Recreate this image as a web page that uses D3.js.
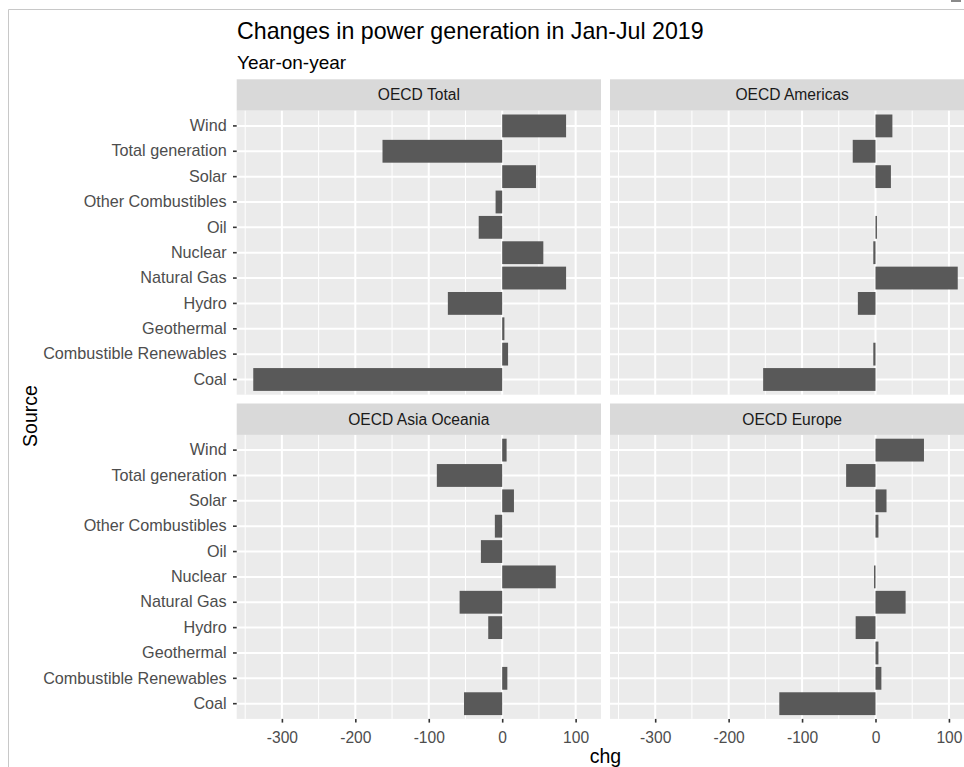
<!DOCTYPE html>
<html><head><meta charset="utf-8">
<script src="https://cdn.jsdelivr.net/npm/d3@7"></script>
<style>body{margin:0;background:#fff;} svg{display:block;font-family:"Liberation Sans",Arial,sans-serif;}</style>
</head><body><svg id="c" width="964" height="767"></svg>
<script>
// ---- data ----
const categories = ["Coal","Combustible Renewables","Geothermal","Hydro","Natural Gas","Nuclear","Oil","Other Combustibles","Solar","Total generation","Wind"];
const regions = ["OECD Total","OECD Americas","OECD Asia Oceania","OECD Europe"];
const totalValues    = [-339, 8, 3, -74, 87, 56, -32, -9, 46, -163, 87];
const americasValues = [-153, -3, 0, -24, 112, -3, 2, 0, 21, -31, 23];
const asiaValues     = [-52, 7, 0, -19, -58, 73, -29, -10, 16, -89, 6];
const europeValues   = [-131, 8, 4, -27, 41, -2, 0, 4, 15, -40, 66];
const xTicks = [-300, -200, -100, 0, 100];
const xMinorTicks = [-350, -250, -150, -50, 50];
const titleText = "Changes in power generation in Jan-Jul 2019";
const subtitleText = "Year-on-year";
const xTitle = "chg", yTitle = "Source";

const seriesByRegion = [totalValues, americasValues, asiaValues, europeValues];

// ---- layout ----
const svg = d3.select("#c");
const colX = [236.7, 610];
const panelW = 364.3;
const stripTop = [79.3, 403.5];
const stripH = 31.4;
const panelH = 284.0;

// frame lines
svg.append("line").attr("x1",8.5).attr("x2",8.5).attr("y1",9.5).attr("y2",767).attr("stroke","#c8c8c8");
svg.append("line").attr("x1",8.5).attr("x2",964).attr("y1",9.5).attr("y2",9.5).attr("stroke","#c8c8c8");
svg.append("rect").attr("x",951).attr("y",0).attr("width",10).attr("height",2).attr("fill","#8a8a8a");

const allVals = seriesByRegion.flat();
const vmin = d3.min(allVals), vmax = d3.max(allVals);
const pad = (vmax - vmin) * 0.05;

svg.append("text").attr("x",237).attr("y",38.5).attr("font-size",23.2).attr("fill","#000").text(titleText);
svg.append("text").attr("x",237).attr("y",68.5).attr("font-size",19).attr("fill","#000").text(subtitleText);

regions.forEach((reg, i) => {
  const col = i % 2, row = Math.floor(i / 2);
  const px = colX[col], sy = stripTop[row], py = sy + stripH;
  const x = d3.scaleLinear().domain([vmin - pad, vmax + pad]).range([px, px + panelW]);
  const y = d3.scaleBand().domain(categories.slice().reverse()).range([py, py + panelH]).paddingInner(0.1).paddingOuter(0.15);
  const g = svg.append("g");
  // strip
  g.append("rect").attr("x",px).attr("y",sy).attr("width",panelW).attr("height",stripH).attr("fill","#D9D9D9");
  g.append("text").attr("x",px + panelW/2).attr("y",sy + stripH/2).attr("dy","0.35em").attr("text-anchor","middle")
    .attr("font-size",15.6).attr("fill","#1A1A1A").text(reg);
  // panel
  g.append("rect").attr("x",px).attr("y",py).attr("width",panelW).attr("height",panelH).attr("fill","#EBEBEB");
  g.selectAll(".minor").data(xMinorTicks.filter(t => t > x.domain()[0] && t < x.domain()[1])).join("line")
    .attr("x1",d=>x(d)).attr("x2",d=>x(d)).attr("y1",py).attr("y2",py+panelH).attr("stroke","#fff").attr("stroke-width",1);
  g.selectAll(".major").data(xTicks).join("line")
    .attr("x1",d=>x(d)).attr("x2",d=>x(d)).attr("y1",py).attr("y2",py+panelH).attr("stroke","#fff").attr("stroke-width",2);
  g.selectAll(".hgrid").data(categories).join("line")
    .attr("x1",px).attr("x2",px+panelW).attr("y1",d=>y(d)+y.bandwidth()/2).attr("y2",d=>y(d)+y.bandwidth()/2)
    .attr("stroke","#fff").attr("stroke-width",2);
  // bars
  const vals = seriesByRegion[i];
  g.selectAll(".bar").data(categories.map((c, k) => ({c, v: vals[k]}))).join("rect")
    .attr("x", d => x(Math.min(0, d.v))).attr("width", d => Math.abs(x(d.v) - x(0)))
    .attr("y", d => y(d.c)).attr("height", y.bandwidth()).attr("fill","#595959");
  // axes
  if (col === 0) {
    const ay = g.append("g").attr("transform",`translate(${px},0)`)
      .call(d3.axisLeft(y).tickSize(3.7).tickPadding(6.3));
    ay.select(".domain").remove();
    ay.selectAll("line").attr("stroke","#333").attr("stroke-width",1.6);
    ay.selectAll("text").attr("font-size",16.2).attr("fill","#4D4D4D").attr("font-family","Liberation Sans, Arial, sans-serif");
  }
  if (row === 1) {
    const ax = g.append("g").attr("transform",`translate(0,${py+panelH})`)
      .call(d3.axisBottom(x).tickValues(xTicks).tickFormat(d => String(d)).tickSize(3.7).tickPadding(9.3));
    ax.select(".domain").remove();
    ax.selectAll("line").attr("stroke","#333").attr("stroke-width",1.6);
    ax.selectAll("text").attr("font-size",15.6).attr("fill","#4D4D4D").attr("font-family","Liberation Sans, Arial, sans-serif");
  }
});

svg.append("text").attr("x",605.4).attr("y",763).attr("text-anchor","middle").attr("font-size",19.5).attr("fill","#000").text(xTitle);
svg.append("text").attr("transform","translate(36.5,416) rotate(-90)").attr("text-anchor","middle").attr("font-size",19.5).attr("fill","#000").text(yTitle);
</script></body></html>
